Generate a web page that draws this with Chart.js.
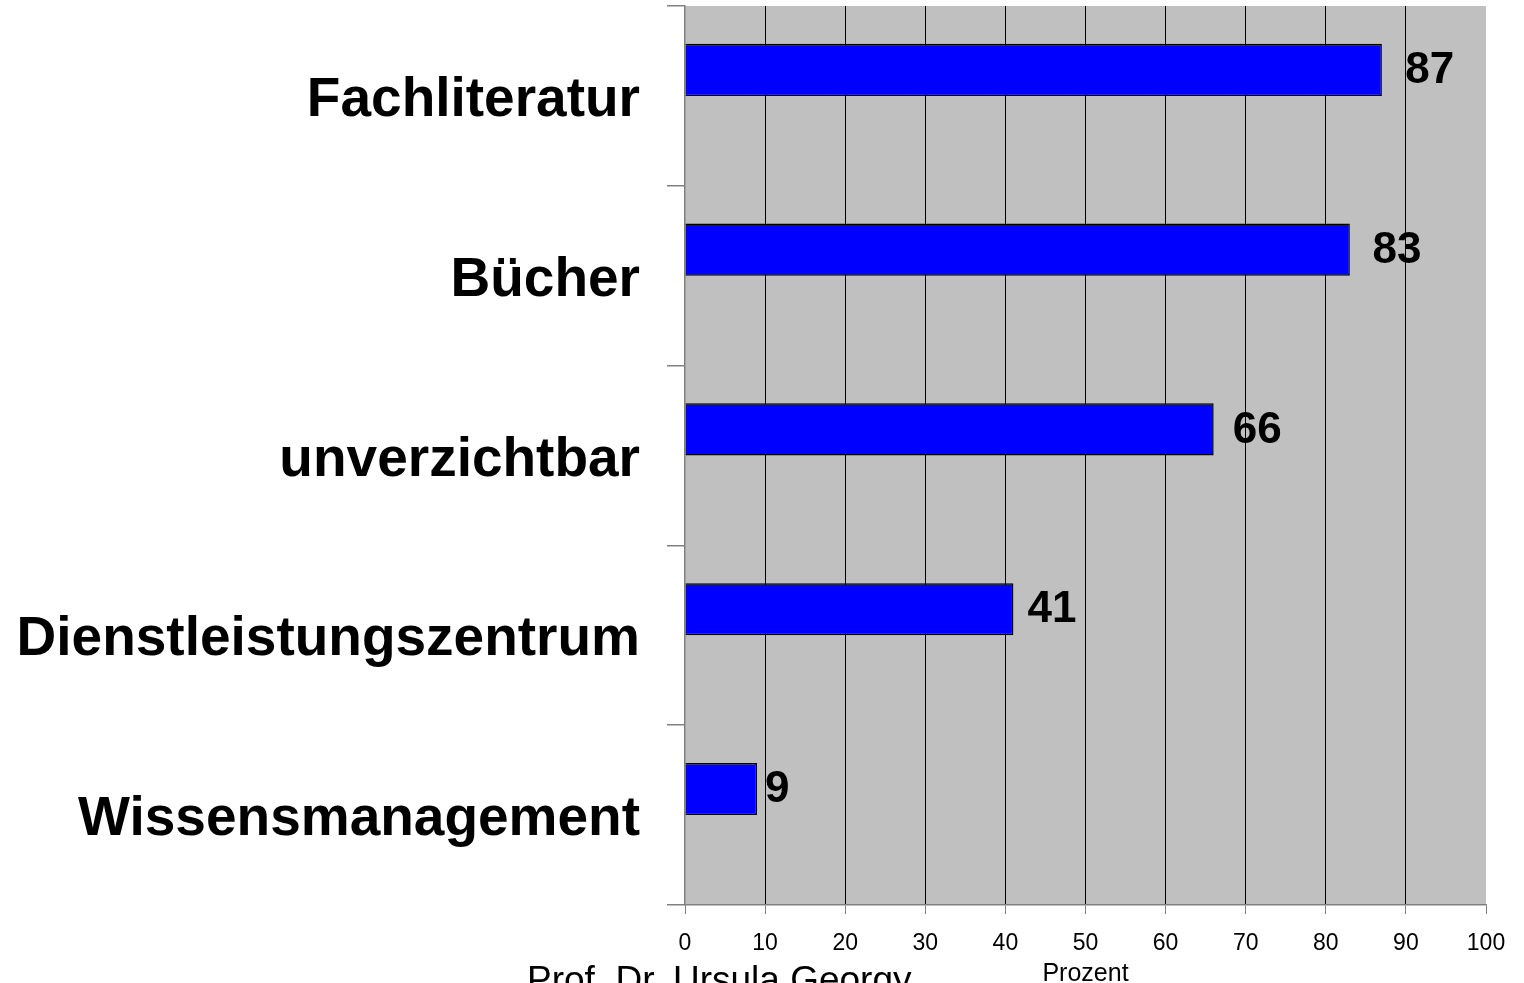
<!DOCTYPE html>
<html>
<head>
<meta charset="utf-8">
<script src="https://cdn.jsdelivr.net/npm/chart.js@4"></script>
<style>
  html, body { margin: 0; padding: 0; background: #fff; }
  #wrap { width: 1524px; height: 983px; }
</style>
</head>
<body>
<div id="wrap"><canvas id="chart" width="1524" height="983"></canvas></div>
<script>
// data
const categories = ["Fachliteratur", "Bücher", "unverzichtbar", "Dienstleistungszentrum", "Wissensmanagement"];
const values = [87, 83, 66, 41, 9];
const emptySeries = [null, null, null, null, null];
const xTicks = [0, 10, 20, 30, 40, 50, 60, 70, 80, 90, 100];
const xTitle = "Prozent";
const footerText = "Prof. Dr. Ursula Georgy";

const FONT = "'Liberation Sans', Arial, sans-serif";

// grey plot background
const plotBackground = {
    id: "plotBackground",
    beforeDraw(chart) {
        const { ctx, chartArea } = chart;
        ctx.save();
        ctx.fillStyle = "#C0C0C0";
        ctx.fillRect(chartArea.left, chartArea.top, chartArea.right - chartArea.left, chartArea.bottom - chartArea.top);
        ctx.restore();
    }
};

// numbers at the end of the bars, axis title and footer text
const valueLabels = {
    id: "valueLabels",
    afterDatasetsDraw(chart) {
        const { ctx, chartArea } = chart;
        const meta = chart.getDatasetMeta(0);
        ctx.save();
        ctx.fillStyle = "#000";
        ctx.font = "bold 44px " + FONT;
        ctx.textAlign = "left";
        ctx.textBaseline = "middle";
        meta.data.forEach((bar, i) => {
            const gap = 6 + (bar.x - bar.base) * 0.025;
            ctx.fillText(String(values[i]), bar.x + gap, bar.y + 1);
        });

        ctx.textBaseline = "alphabetic";
        ctx.textAlign = "center";
        ctx.font = "25px " + FONT;
        ctx.fillText(xTitle, (chartArea.left + chartArea.right) / 2, 981);

        ctx.textAlign = "left";
        ctx.font = "37px " + FONT;
        ctx.fillText(footerText, 527, 992);
        ctx.restore();
    }
};

new Chart(document.getElementById("chart").getContext("2d"), {
    type: "bar",
    data: {
        labels: categories,
        datasets: [
            {
                data: values,
                backgroundColor: "#0000FF",
                borderColor: "#000000",
                borderWidth: 1.5,
                categoryPercentage: 0.58,
                barPercentage: 1.0
            },
            {
                data: emptySeries,
                backgroundColor: "#FF0000",
                categoryPercentage: 0.58,
                barPercentage: 1.0
            }
        ]
    },
    options: {
        indexAxis: "y",
        responsive: false,
        animation: false,
        layout: { padding: { top: 6, right: 38, left: 0, bottom: 0 } },
        plugins: {
            legend: { display: false },
            tooltip: { enabled: false }
        },
        scales: {
            x: {
                min: 0,
                max: 100,
                afterBuildTicks(scale) {
                    scale.ticks = xTicks.map(v => ({ value: v }));
                },
                afterFit(scale) {
                    scale.height = 78;
                    scale.paddingLeft = 0;
                    scale.paddingRight = 0;
                },
                grid: {
                    color: ctx => (ctx.tick && (ctx.tick.value === 0 || ctx.tick.value === 100)) ? "rgba(0,0,0,0)" : "#000000",
                    tickColor: "#808080",
                    tickLength: 9,
                    lineWidth: 1
                },
                border: { color: "#808080", width: 1.5 },
                ticks: {
                    color: "#000",
                    font: { family: FONT, size: 23 },
                    padding: 16,
                    maxRotation: 0
                }
            },
            y: {
                afterFit(scale) {
                    scale.width = 685;
                    scale.paddingTop = 0;
                    scale.paddingBottom = 0;
                },
                grid: {
                    offset: true,
                    drawOnChartArea: false,
                    color: "#808080",
                    tickLength: 18,
                    lineWidth: 1.5
                },
                border: { color: "#808080", width: 1.5 },
                ticks: {
                    color: "#000",
                    font: { family: FONT, size: 55, weight: "bold" },
                    padding: 27,
                    labelOffset: 5
                }
            }
        }
    },
    plugins: [plotBackground, valueLabels]
});
</script>
</body>
</html>
